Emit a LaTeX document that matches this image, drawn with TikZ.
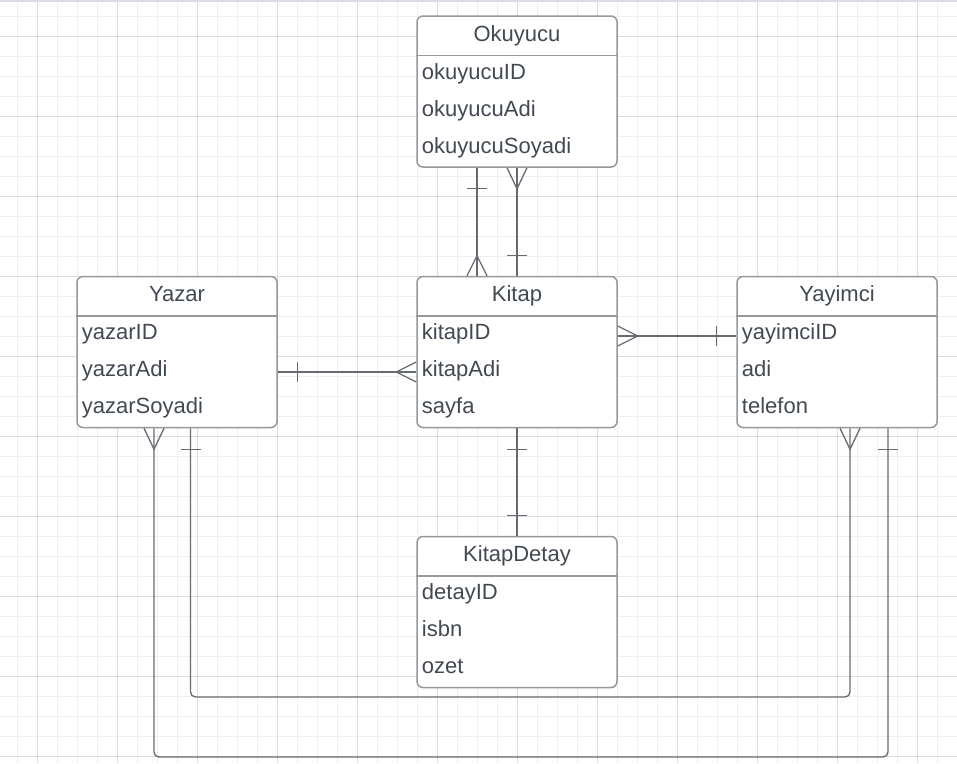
\documentclass[tikz,border=0pt]{standalone}
\usepackage{fontspec}
\setmainfont{Liberation Sans}
\definecolor{gridminor}{HTML}{EFEFF1}
\definecolor{gridmajor}{HTML}{DDDDE0}
\definecolor{topline}{HTML}{D9DEE4}
\definecolor{boxline}{HTML}{95989D}
\definecolor{conline}{HTML}{666A71}
\definecolor{txt}{HTML}{434953}
\tikzset{
  entity/.style={draw=boxline, line width=1.5pt, rounded corners=6pt, fill=white,
    minimum width=200pt, minimum height=151pt, inner sep=0pt},
  hdrline/.style={draw=boxline, line width=1.5pt},
  hdr/.style={anchor=base, inner sep=0pt, text=txt, font=\fontsize{22}{26}\selectfont},
  attr/.style={anchor=base west, inner sep=0pt, text=txt, font=\fontsize{22}{26}\selectfont},
  con/.style={draw=conline, line width=1.3pt},
  conr/.style={draw=conline, line width=1.3pt, rounded corners=5pt},
  gmin/.style={draw=gridminor, line width=1pt},
  gmaj/.style={draw=gridmajor, line width=1pt},
}
\begin{document}
\begin{tikzpicture}[x=1pt,y=-1pt]
\useasboundingbox (0,0) rectangle (957,763);
\fill[white] (0,0) rectangle (957,763);
% grid
\foreach \x in {17.5,57.5,...,957} \draw[gmin] (\x,0) -- (\x,763);
\foreach \y in {16,56,...,763} \draw[gmin] (0,\y) -- (957,\y);
\foreach \x in {77.5,157.5,...,957} \draw[gmin] (\x,0) -- (\x,763);
\foreach \y in {76,156,...,763} \draw[gmin] (0,\y) -- (957,\y);
\foreach \x in {97.5,177.5,...,957} \draw[gmin] (\x,0) -- (\x,763);
\foreach \y in {96,176,...,763} \draw[gmin] (0,\y) -- (957,\y);
\foreach \x in {37.5,117.5,...,957} \draw[gmaj] (\x,0) -- (\x,763);
\foreach \y in {36,116,...,763} \draw[gmaj] (0,\y) -- (957,\y);
\draw[topline, line width=1.5pt] (0,0.75) -- (957,0.75);

\coordinate (innerY) at (0,697);
\coordinate (outerY) at (0,757);

% entities
\node[entity] (okuyucu) at (517,91.5) {};
\node[entity] (kitap) at (517,352) {};
\node[entity] (yazar) at (177,352) {};
\node[entity] (yayimci) at (837,352) {};
\node[entity] (detay) at (517,612) {};

% Okuyucu - Kitap (left line: one at Okuyucu, many at Kitap)
\draw[con] ([xshift=-40pt]okuyucu.south) -- ([xshift=-40pt]kitap.north);
\draw[con] ([xshift=-50pt,yshift=-21pt]okuyucu.south) -- ([xshift=-30pt,yshift=-21pt]okuyucu.south);
\draw[con] ([xshift=-50pt]kitap.north) -- ([xshift=-40pt,yshift=20pt]kitap.north) -- ([xshift=-30pt]kitap.north);
% Okuyucu - Kitap (right line: many at Okuyucu, one at Kitap)
\draw[con] (okuyucu.south) -- (kitap.north);
\draw[con] ([xshift=-10pt]okuyucu.south) -- ([yshift=-21pt]okuyucu.south) -- ([xshift=10pt]okuyucu.south);
\draw[con] ([xshift=-10pt,yshift=20pt]kitap.north) -- ([xshift=10pt,yshift=20pt]kitap.north);

% Yazar - Kitap
\draw[con] ([yshift=-20pt]yazar.east) -- ([yshift=-20pt]kitap.west);
\draw[con] ([xshift=20pt,yshift=-10pt]yazar.east) -- ([xshift=20pt,yshift=-30pt]yazar.east);
\draw[con] ([yshift=-10pt]kitap.west) -- ([xshift=-20pt,yshift=-20pt]kitap.west) -- ([yshift=-30pt]kitap.west);

% Kitap - Yayimci
\draw[con] ([yshift=16pt]kitap.east) -- ([yshift=16pt]yayimci.west);
\draw[con] ([yshift=26pt]kitap.east) -- ([xshift=20pt,yshift=16pt]kitap.east) -- ([yshift=6pt]kitap.east);
\draw[con] ([xshift=-20pt,yshift=26pt]yayimci.west) -- ([xshift=-20pt,yshift=6pt]yayimci.west);

% Kitap - KitapDetay
\draw[con] (kitap.south) -- (detay.north);
\draw[con] ([xshift=-10pt,yshift=-21pt]kitap.south) -- ([xshift=10pt,yshift=-21pt]kitap.south);
\draw[con] ([xshift=-10pt,yshift=20pt]detay.north) -- ([xshift=10pt,yshift=20pt]detay.north);

% Yazar - Yayimci (outer: many at Yazar, one at Yayimci)
\draw[conr] ([xshift=-23pt]yazar.south) -- ([xshift=-23pt]yazar.south |- outerY)
  -- ([xshift=51pt]yayimci.south |- outerY) -- ([xshift=51pt]yayimci.south);
\draw[con] ([xshift=-33pt]yazar.south) -- ([xshift=-23pt,yshift=-21pt]yazar.south) -- ([xshift=-13pt]yazar.south);
\draw[con] ([xshift=41pt,yshift=-21pt]yayimci.south) -- ([xshift=61pt,yshift=-21pt]yayimci.south);
% Yazar - Yayimci (inner: one at Yazar, many at Yayimci)
\draw[conr] ([xshift=13.5pt]yazar.south) -- ([xshift=13.5pt]yazar.south |- innerY)
  -- ([xshift=13pt]yayimci.south |- innerY) -- ([xshift=13pt]yayimci.south);
\draw[con] ([xshift=3.5pt,yshift=-21pt]yazar.south) -- ([xshift=23.5pt,yshift=-21pt]yazar.south);
\draw[con] ([xshift=3pt]yayimci.south) -- ([xshift=13pt,yshift=-21pt]yayimci.south) -- ([xshift=23pt]yayimci.south);

% header lines
\foreach \e in {okuyucu,kitap,yazar,yayimci,detay}
  \draw[hdrline] ([yshift=-40pt]\e.north west) -- ([yshift=-40pt]\e.north east);

% texts
\node[hdr] (okuyucu-h) at ([yshift=-26pt]okuyucu.north) {Okuyucu};
\node[attr] (okuyucu-1) at ([xshift=5.5pt,yshift=-64pt]okuyucu.north west) {okuyucuID};
\node[attr] (okuyucu-2) at ([xshift=5.5pt,yshift=-101pt]okuyucu.north west) {okuyucuAdi};
\node[attr] (okuyucu-3) at ([xshift=5.5pt,yshift=-138pt]okuyucu.north west) {okuyucuSoyadi};

\node[hdr] (kitap-h) at ([yshift=-26pt]kitap.north) {Kitap};
\node[attr] (kitap-1) at ([xshift=5.5pt,yshift=-64pt]kitap.north west) {kitapID};
\node[attr] (kitap-2) at ([xshift=5.5pt,yshift=-101pt]kitap.north west) {kitapAdi};
\node[attr] (kitap-3) at ([xshift=5.5pt,yshift=-138pt]kitap.north west) {sayfa};

\node[hdr] (yazar-h) at ([yshift=-26pt]yazar.north) {Yazar};
\node[attr] (yazar-1) at ([xshift=5.5pt,yshift=-64pt]yazar.north west) {yazarID};
\node[attr] (yazar-2) at ([xshift=5.5pt,yshift=-101pt]yazar.north west) {yazarAdi};
\node[attr] (yazar-3) at ([xshift=5.5pt,yshift=-138pt]yazar.north west) {yazarSoyadi};

\node[hdr] (yayimci-h) at ([yshift=-26pt]yayimci.north) {Yayimci};
\node[attr] (yayimci-1) at ([xshift=5.5pt,yshift=-64pt]yayimci.north west) {yayimciID};
\node[attr] (yayimci-2) at ([xshift=5.5pt,yshift=-101pt]yayimci.north west) {adi};
\node[attr] (yayimci-3) at ([xshift=5.5pt,yshift=-138pt]yayimci.north west) {telefon};

\node[hdr] (detay-h) at ([yshift=-26pt]detay.north) {KitapDetay};
\node[attr] (detay-1) at ([xshift=5.5pt,yshift=-64pt]detay.north west) {detayID};
\node[attr] (detay-2) at ([xshift=5.5pt,yshift=-101pt]detay.north west) {isbn};
\node[attr] (detay-3) at ([xshift=5.5pt,yshift=-138pt]detay.north west) {ozet};
\end{tikzpicture}
\end{document}
